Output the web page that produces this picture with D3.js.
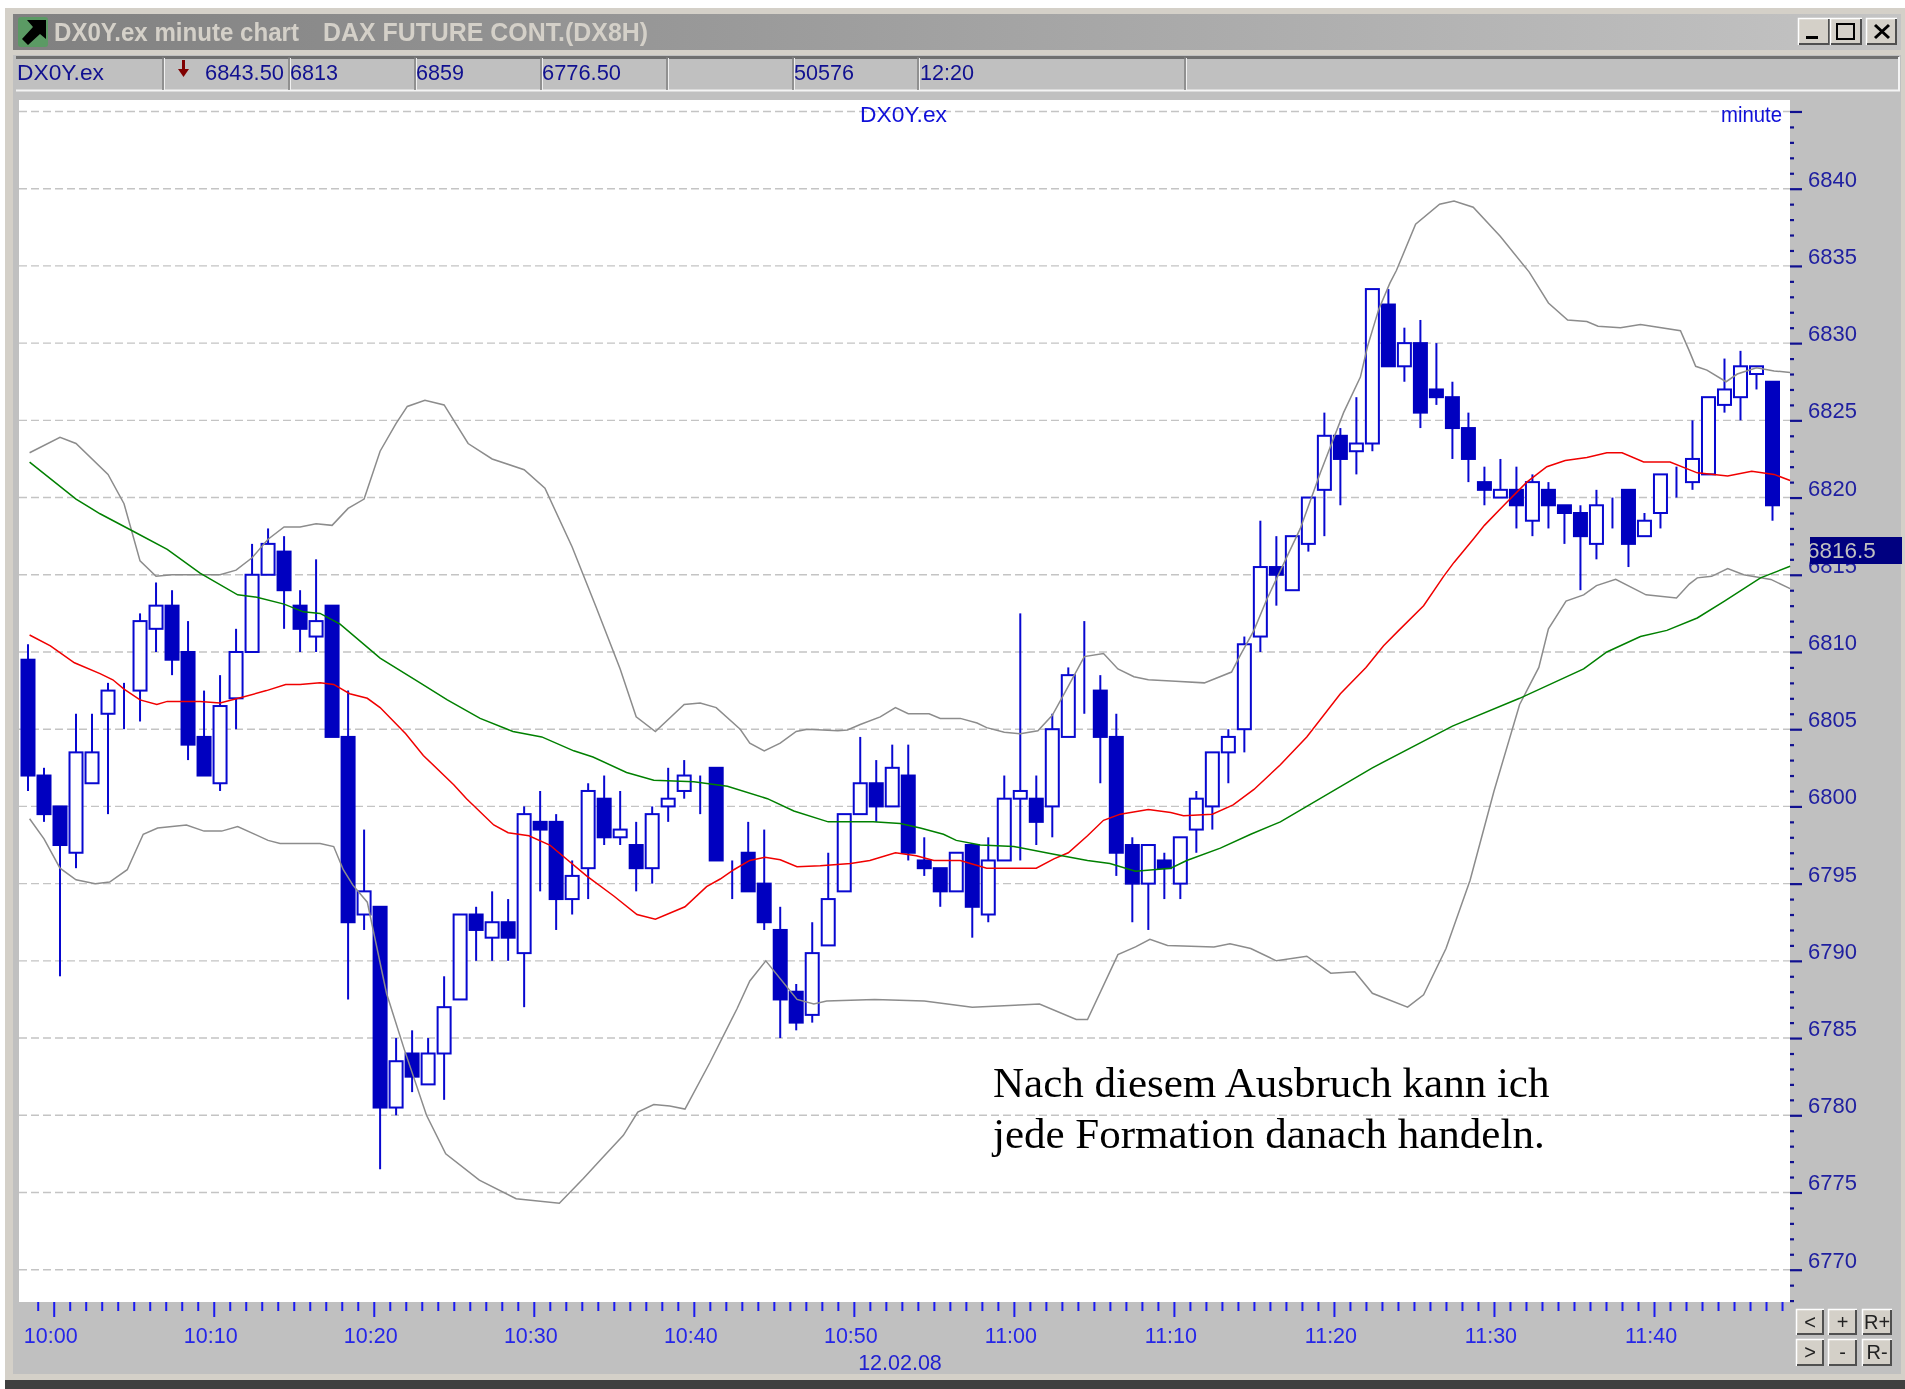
<!DOCTYPE html>
<html><head><meta charset="utf-8">
<script src="https://cdn.jsdelivr.net/npm/d3@7"></script>
<style>
html,body{margin:0;padding:0;background:#fff;overflow:hidden}
svg{display:block;filter:blur(0.6px)}
text{font-family:"Liberation Sans",Arial,sans-serif}
</style></head><body><svg id="c" width="1905" height="1389"></svg>
<script>
const titleLeft="DX0Y.ex minute chart", titleRight="DAX FUTURE CONT.(DX8H)";
const statusCells=[["DX0Y.ex",17,87],["6843.50",205,79],["6813",290,48],["6859",416,48],["6776.50",542,79],["50576",794,60],["12:20",920,54]];
const statusSeparators=[163,289,415,541,667,793,918,1185];
const timeLabels=["10:00","10:10","10:20","10:30","10:40","10:50","11:00","11:10","11:20","11:30","11:40"];
const priceLabels=[6840,6835,6830,6825,6820,6815,6810,6805,6800,6795,6790,6785,6780,6775,6770];
const opens=[6809.5,6802,6800,6797,6801.5,6806,6807.5,6807.5,6811.5,6813,6810,6804.5,6801.5,6807,6810,6815,6816.5,6813,6811,6813,6804.5,6793,6793.5,6780.5,6784,6782,6784,6787.5,6793,6791.5,6792.5,6790.5,6799,6799,6794,6796,6800.5,6798,6797.5,6796,6800,6801,6802,6802.5,6796.5,6797,6795,6792,6788,6786.5,6791,6794.5,6799.5,6801.5,6800,6802,6796.5,6796,6794.5,6797.5,6793,6796.5,6800.5,6800.5,6800,6804.5,6808.5,6807.5,6804.5,6797.5,6795,6796.5,6795,6798.5,6800,6803.5,6805,6811,6815.5,6814,6817,6820.5,6824,6823,6823.5,6832.5,6828.5,6830,6827,6826.5,6824.5,6821,6820,6820.5,6818.5,6820.5,6819.5,6819,6817,6819.5,6820.5,6817.5,6819,6821,6821,6821.5,6826,6826.5,6828,6827.5];
const closes=[6802,6799.5,6797.5,6803.5,6803.5,6807.5,6807.5,6812,6813,6809.5,6804,6802,6806.5,6810,6815,6817,6814,6811.5,6812,6804.5,6792.5,6794.5,6780.5,6783.5,6782.5,6784,6787,6793,6792,6792.5,6791.5,6799.5,6798.5,6794,6795.5,6801,6798,6798.5,6796,6799.5,6800.5,6802,6802,6796.5,6796.5,6794.5,6792.5,6787.5,6786,6790.5,6794,6799.5,6801.5,6800,6802.5,6797,6796,6794.5,6797,6793.5,6796.5,6800.5,6801,6799,6805,6808.5,6808.5,6804.5,6797,6795,6797.5,6796,6798,6800.5,6803.5,6804.5,6810.5,6815.5,6815,6817.5,6820,6824,6822.5,6823.5,6833.5,6828.5,6830,6825.5,6826.5,6824.5,6822.5,6820.5,6820.5,6819.5,6821,6819.5,6819,6817.5,6819.5,6819.5,6817,6818.5,6821.5,6821,6822.5,6826.5,6827,6828.5,6828.5,6819.5];
const highs=[6810.5,6802.5,6800,6806,6806,6808,6808,6812.5,6814.5,6814,6812,6807.5,6808.5,6811.5,6817,6818,6817.5,6814,6816,6813,6807.5,6798.5,6793.5,6785,6785.5,6785,6789,6793,6793.5,6794.5,6794,6800,6801,6799.5,6796.5,6801.5,6802,6801,6799,6800,6802.5,6803,6802,6802.5,6796.5,6799,6798.5,6793.5,6788.5,6792.5,6797,6799.5,6804.5,6803,6804,6804,6798,6796,6797,6797.5,6798,6802,6812.5,6802,6806,6809,6812,6808.5,6806,6798,6797.5,6797,6798,6801,6803.5,6805,6811,6818.5,6817.5,6817.5,6820,6825.5,6824.5,6826.5,6833.5,6833.5,6831,6831.5,6830,6827.5,6825.5,6822,6822.5,6822,6821.5,6821,6819.5,6819.5,6820.5,6820,6820.5,6819,6821.5,6822,6825,6826.5,6829,6829.5,6828.5,6827.5];
const lows=[6801,6799,6789,6796,6801.5,6799.5,6805,6805.5,6810,6808.5,6803,6802,6801,6805,6810,6815,6811.5,6810,6810,6804.5,6787.5,6792,6776.5,6780,6781.5,6782,6781,6787.5,6790,6790,6790,6787,6794.5,6792,6793,6794,6797.5,6797.5,6794.5,6795,6799,6800.5,6799.5,6796.5,6794,6794.5,6792,6785,6785.5,6786,6791,6794.5,6799.5,6799,6800,6796.5,6795.5,6793.5,6794.5,6791.5,6792.5,6796.5,6796.5,6797.5,6798,6804.5,6806,6801.5,6795.5,6792.5,6792,6794,6794,6797,6798.5,6801.5,6803.5,6810,6813,6814,6816.5,6817.5,6819.5,6821.5,6823,6828.5,6827.5,6824.5,6826,6822.5,6821,6819.5,6820,6818,6817.5,6818,6817,6814,6816,6818,6815.5,6817.5,6818,6820,6820.5,6821.5,6825.5,6825,6827,6818.5];
const bandUpper=[[0.1,6822.9],[2,6823.9],[3,6823.5],[5,6821.5],[6,6819.6],[7,6815.9],[8,6814.9],[9,6815],[12,6815],[13,6815.3],[14,6816.1],[15,6817.3],[16,6818.1],[17,6818.1],[18,6818.3],[19,6818.2],[20,6819.3],[21,6819.9],[22,6823],[23,6824.8],[23.7,6825.9],[24.8,6826.3],[26,6826],[27.5,6823.5],[29,6822.5],[31,6821.8],[32.3,6820.6],[34,6816.8],[35.5,6812.9],[37,6808.9],[38,6805.8],[39.2,6804.85],[41,6806.6],[42,6806.7],[43,6806.4],[44.5,6805],[45.1,6804.1],[46,6803.6],[47,6804.1],[48,6804.85],[48.7,6805],[50.6,6804.9],[51.2,6804.95],[52,6805.3],[53.25,6805.8],[54.2,6806.4],[55,6806],[56.3,6806],[57,6805.7],[58.25,6805.7],[59.3,6805.4],[59.9,6805.1],[61,6804.8],[62,6804.7],[63.1,6804.9],[64,6805.9],[64.8,6807.4],[66,6809.7],[67.2,6809.9],[68.1,6808.9],[69.1,6808.4],[70,6808.2],[71.7,6808.1],[73.5,6808],[75.2,6808.7],[75.75,6809.8],[76.6,6811.4],[77.4,6813.4],[79.5,6818],[80.75,6821.6],[82.2,6825.5],[83.25,6827.8],[83.7,6829.8],[84.4,6832.2],[85.1,6833.9],[85.5,6834.7],[86.7,6837.7],[88.2,6839],[89.1,6839.2],[90.3,6838.8],[92,6836.9],[93.8,6834.6],[95,6832.6],[96.2,6831.5],[97.4,6831.4],[98.1,6831.1],[99.5,6831],[100.75,6831.2],[103.25,6830.8],[103.8,6829.5],[104.2,6828.5],[104.9,6828.25],[106.1,6827.5],[106.8,6828],[108,6828.4],[109.1,6828.2],[110.1,6828.1]];
const bandLower=[[0.1,6799.2],[1,6797.9],[2,6796],[3,6795.25],[4.2,6795],[5.1,6795.1],[6.2,6795.9],[7.2,6798.2],[8.1,6798.6],[9.9,6798.8],[11,6798.4],[12.1,6798.4],[13.1,6798.7],[15,6797.8],[15.75,6797.6],[18.25,6797.6],[19.1,6797.4],[19.7,6795.9],[20.3,6794.9],[21.2,6793.8],[22.4,6787.9],[23.5,6784.3],[24.9,6780],[26.1,6777.5],[28.2,6775.8],[30.5,6774.6],[33.2,6774.3],[34.7,6775.9],[35.85,6777.2],[37.2,6778.7],[38.1,6780.2],[39.1,6780.7],[40.1,6780.6],[41.05,6780.4],[42.6,6783.4],[44.3,6786.9],[45.1,6788.7],[46.1,6790],[48.05,6787.5],[49.1,6787.2],[49.9,6787.4],[52.9,6787.5],[56,6787.4],[59,6787],[63.2,6787.2],[65.5,6786.2],[66.2,6786.2],[68.1,6790.4],[69.2,6790.9],[70.1,6791.4],[71.2,6791],[74.1,6790.9],[75.1,6791.1],[76.4,6790.8],[78,6790],[79.9,6790.3],[81.4,6789.2],[82.9,6789.3],[84,6787.9],[86.2,6787],[87.2,6787.8],[88.6,6790.8],[90.1,6795.2],[91.6,6801],[93.2,6806.6],[94.4,6809],[95,6811.5],[96.1,6813.3],[97.2,6813.7],[98,6814.3],[99.2,6814.7],[101.1,6813.7],[103,6813.5],[103.8,6814.4],[104.3,6814.8],[105.2,6814.9],[106.2,6815.4],[107.2,6815],[108.9,6814.7],[110.1,6814.1]];
const maRed=[[0.1,6811.1],[1.4,6810.4],[2.9,6809.3],[4.5,6808.6],[5.3,6808.2],[6,6807.6],[7,6806.9],[8.05,6806.6],[8.7,6806.8],[10.75,6806.8],[12,6806.7],[13.5,6807.1],[14.9,6807.5],[16.1,6807.9],[17,6807.9],[18.25,6808],[19.1,6807.9],[20.1,6807.3],[21.2,6807],[22,6806.4],[23.6,6804.7],[24.7,6803.3],[26.6,6801.4],[27.4,6800.5],[29.1,6798.8],[30,6798.3],[31.3,6798.1],[32.6,6797.5],[34.9,6795.5],[36.6,6794.2],[38.05,6793],[39.2,6792.7],[41.05,6793.5],[42.4,6794.8],[43.25,6795.3],[44.1,6795.9],[45.1,6796.5],[46.05,6796.7],[47,6796.55],[48.05,6796.1],[49.5,6796.15],[51.4,6796.3],[52.6,6796.5],[54.2,6797],[55.5,6796.8],[56.6,6796.5],[58.25,6796.5],[59.9,6796],[63,6796],[64.1,6796.6],[65,6797],[66.2,6798.1],[67.2,6799.1],[68.25,6799.5],[70,6799.8],[71.4,6799.6],[72.2,6799.4],[74,6799.5],[75.3,6800.1],[76.6,6801.1],[78.25,6802.7],[79.9,6804.5],[82,6807.3],[83.6,6809],[84.7,6810.4],[85.65,6811.4],[87.2,6813],[88.45,6814.9],[89.1,6815.8],[90.3,6817.3],[91,6818.2],[92.4,6819.7],[93.65,6821],[94.9,6822],[96.05,6822.4],[97.4,6822.6],[98.65,6822.9],[99.6,6822.9],[100.95,6822.3],[102.6,6822.3],[104.3,6821.6],[106.2,6821.4],[107.7,6821.7],[109.1,6821.5],[110.1,6821.1]];
const maGreen=[[0.1,6822.3],[3,6819.9],[4.5,6818.95],[6.6,6817.8],[8.7,6816.65],[10.75,6815.1],[13.1,6813.7],[14.3,6813.55],[16,6813.1],[17.2,6812.6],[18.25,6812.5],[19.5,6811.8],[22,6809.6],[24.5,6808],[26.2,6806.9],[28.25,6805.7],[30.3,6804.85],[32.1,6804.5],[34.1,6803.6],[35.3,6803.2],[37.4,6802.2],[39.1,6801.7],[41.6,6801.6],[43.7,6801.3],[46.2,6800.5],[47.85,6799.7],[50,6799],[52.8,6799],[54.5,6798.9],[55.75,6798.6],[57.2,6798.2],[58,6797.8],[59.5,6797.5],[61.6,6797.4],[64.1,6796.9],[66.2,6796.5],[67.6,6796.3],[69.2,6795.8],[71.4,6796],[72.4,6796.5],[74.5,6797.3],[76.4,6798.2],[78.25,6799],[84,6802.5],[89,6805.2],[93.2,6807],[97.2,6808.9],[98.65,6810],[100.75,6811],[102.4,6811.4],[104.3,6812.2],[106,6813.3],[108.25,6814.8],[110.1,6815.55]];
const lastPrice="6816.5";
const noteLines=["Nach diesem Ausbruch kann ich","jede Formation danach handeln."];

const svg=d3.select("#c");
const W=1905,H=1389,plot={l:19,r:1790,t:100,b:1302};
const x=d3.scaleLinear().domain([0,109]).range([28,1772.5]);
const y=d3.scaleLinear().domain([6770,6840]).range([1269.7,188.7]);
const xt=d3.scaleLinear().domain([0,100]).range([53.7,1654]);

// window
const defs=svg.append("defs");
const g=defs.append("linearGradient").attr("id","tb");
g.append("stop").attr("offset","0").attr("stop-color","#808080");
g.append("stop").attr("offset","1").attr("stop-color","#c4c4c4");
svg.append("rect").attr("width",W).attr("height",H).attr("fill","#fff");
svg.append("rect").attr("x",5).attr("y",8).attr("width",W-5).attr("height",1372).attr("fill","#d4d0c8");
svg.append("rect").attr("x",13).attr("y",14).attr("width",W-17).attr("height",1361).attr("fill","#c0c0c0");
svg.append("rect").attr("x",13).attr("y",1374).attr("width",W-13).attr("height",6).attr("fill","#d4d0c8");
svg.append("rect").attr("x",5).attr("y",1380).attr("width",W-5).attr("height",9).attr("fill","#404040");
svg.append("rect").attr("x",13).attr("y",14).attr("width",W-17).attr("height",36).attr("fill","url(#tb)");
svg.append("rect").attr("x",13).attr("y",50).attr("width",W-17).attr("height",5).attr("fill","#d4d0c8");
// icon
svg.append("rect").attr("x",18).attr("y",17).attr("width",30).attr("height",30).attr("rx",3).attr("fill","#5b9a64");
svg.append("path").attr("d","M27 20 H46 V39 L40 34 L28 45 L22 39 L33 27 Z").attr("fill","#000");
svg.append("text").attr("x",54).attr("y",41).attr("font-size",26).attr("font-weight","bold").attr("fill","#d4d0c8").attr("textLength",245).attr("lengthAdjust","spacingAndGlyphs").text(titleLeft);
svg.append("text").attr("x",323).attr("y",41).attr("font-size",26).attr("font-weight","bold").attr("fill","#d4d0c8").attr("textLength",325).attr("lengthAdjust","spacingAndGlyphs").text(titleRight);

function button(x0,y0,w,h){
  svg.append("rect").attr("x",x0).attr("y",y0).attr("width",w).attr("height",h).attr("fill","#d4d0c8");
  svg.append("path").attr("d",`M${x0+.5} ${y0+h}V${y0+.5}H${x0+w}`).attr("fill","none").attr("stroke","#fff").attr("stroke-width",1.5);
  svg.append("path").attr("d",`M${x0+w-1} ${y0+1}V${y0+h-1}H${x0+1}`).attr("fill","none").attr("stroke","#505050").attr("stroke-width",2);
}
button(1798,18,32,27);button(1830,18,32,27);button(1866,18,31,27);
svg.append("rect").attr("x",1806).attr("y",36).attr("width",12).attr("height",3).attr("fill","#000");
svg.append("rect").attr("x",1837).attr("y",24).attr("width",17).attr("height",15).attr("fill","none").attr("stroke","#000").attr("stroke-width",2);
svg.append("path").attr("d","M1875 25L1889 38M1889 25L1875 38").attr("stroke","#000").attr("stroke-width",3);

// status row
svg.append("path").attr("d","M16 57.5H1899").attr("stroke","#707070").attr("stroke-width",3);
svg.append("path").attr("d","M16 90.5H1899V57").attr("stroke","#f4f4f4").attr("stroke-width",2).attr("fill","none");
statusSeparators.forEach(s=>{
  svg.append("path").attr("d",`M${s} 57V90`).attr("stroke","#808080").attr("stroke-width",1.5);
  svg.append("path").attr("d",`M${s+1.5} 58V90`).attr("stroke","#f0f0f0").attr("stroke-width",1);
});
statusCells.forEach(c=>svg.append("text").attr("x",c[1]).attr("y",80).attr("font-size",21.5).attr("fill","#101090").attr("textLength",c[2]).attr("lengthAdjust","spacingAndGlyphs").text(c[0]));
svg.append("path").attr("d","M180 70H184V61H187V70H191L185.5 78Z").attr("transform","translate(-2,-1)").attr("fill","#800000");

// plot
svg.append("rect").attr("x",plot.l).attr("y",plot.t).attr("width",plot.r-plot.l).attr("height",plot.b-plot.t).attr("fill","#fff");
const gridVals=d3.range(6770,6846,5);
svg.append("g").selectAll("line").data(gridVals).join("line")
  .attr("x1",plot.l).attr("x2",plot.r).attr("y1",d=>y(d)).attr("y2",d=>y(d))
  .attr("stroke","#c4c4c4").attr("stroke-width",1.4).attr("stroke-dasharray","8 4");

// y axis
const axMinor=svg.append("g").attr("transform",`translate(${plot.r},0)`)
  .call(d3.axisRight(y).tickValues(d3.range(6768,6845).filter(d=>d%5)).tickSize(4).tickFormat(""));
const axMajor=svg.append("g").attr("transform",`translate(${plot.r},0)`)
  .call(d3.axisRight(y).tickValues(gridVals).tickSize(12).tickFormat(""));
[axMinor,axMajor].forEach(a=>{a.select(".domain").remove();a.selectAll("line").attr("stroke","#101090").attr("stroke-width",2.2);});
svg.append("g").selectAll("text").data(priceLabels).join("text")
  .attr("x",1808).attr("y",d=>y(d)-2).attr("font-size",22).attr("fill","#2020a0").text(d=>d);

// x axis
const axX=svg.append("g").attr("transform",`translate(0,${plot.b})`)
  .call(d3.axisBottom(xt).tickValues(d3.range(-1,109).filter(d=>d%10)).tickSize(9).tickFormat(""));
const axX2=svg.append("g").attr("transform",`translate(0,${plot.b})`)
  .call(d3.axisBottom(xt).tickValues(d3.range(0,101,10)).tickSize(15).tickFormat(""));
[axX,axX2].forEach(a=>{a.select(".domain").remove();a.selectAll("line").attr("stroke","#1a1af0").attr("stroke-width",2);});
svg.append("g").selectAll("text").data(timeLabels).join("text")
  .attr("x",(d,i)=>xt(i*10)-3).attr("y",1342.5).attr("text-anchor","middle").attr("font-size",21.5).attr("fill","#2525e8").text(d=>d);
svg.append("text").attr("x",900).attr("y",1370).attr("text-anchor","middle").attr("font-size",21.5).attr("fill","#2020d0").text("12.02.08");

// candles
const BW=13,blue="#0000c0";
const idx=d3.range(opens.length);
svg.append("g").selectAll("line").data(idx).join("line")
  .attr("x1",i=>x(i)).attr("x2",i=>x(i)).attr("y1",i=>y(highs[i])).attr("y2",i=>y(lows[i]))
  .attr("stroke","#0808d0").attr("stroke-width",2);
svg.append("g").selectAll("rect").data(idx).join("rect")
  .attr("x",i=>x(i)-BW/2).attr("width",BW)
  .attr("y",i=>y(Math.max(opens[i],closes[i])))
  .attr("height",i=>Math.abs(y(opens[i])-y(closes[i])))
  .attr("fill",i=>closes[i]<opens[i]?blue:"#fff")
  .attr("stroke",i=>closes[i]<opens[i]?blue:"#0808d0").attr("stroke-width",2);

// lines
const ln=d3.line().x(d=>x(d[0])).y(d=>y(d[1]));
[[bandUpper,"#8c8c8c"],[bandLower,"#8c8c8c"],[maRed,"#f00000"],[maGreen,"#008000"]].forEach(s=>
  svg.append("path").attr("d",ln(s[0])).attr("fill","none").attr("stroke",s[1]).attr("stroke-width",1.5));

// labels inside the plot
svg.append("text").attr("x",860).attr("y",122).attr("font-size",21.5).attr("fill","#1010d8").attr("textLength",87).attr("lengthAdjust","spacingAndGlyphs").text("DX0Y.ex");
svg.append("text").attr("x",1721).attr("y",122).attr("font-size",21.5).attr("fill","#1010d8").attr("textLength",61).attr("lengthAdjust","spacingAndGlyphs").text("minute");

// last price tag
svg.append("rect").attr("x",1810).attr("y",537).attr("width",92).attr("height",27).attr("fill","#000080");
defs.append("clipPath").attr("id","tagclip").append("rect").attr("x",1810).attr("y",530).attr("width",95).attr("height",40);
svg.append("text").attr("x",1807).attr("y",558).attr("font-size",22.5).attr("fill","#c0c0c0").attr("clip-path","url(#tagclip)").text(lastPrice);

// zoom buttons
const zoomBtns=[["<",1796,1309,28,26],["+",1828,1309,29,26],["R+",1862,1309,30,26],[">",1796,1339,28,27],["-",1828,1339,29,27],["R-",1862,1339,30,27]];
zoomBtns.forEach(b=>{button(b[1],b[2],b[3],b[4]);
  svg.append("text").attr("x",b[1]+b[3]/2).attr("y",b[2]+20).attr("text-anchor","middle").attr("font-size",20).attr("fill","#222").text(b[0]);});

// annotation
noteLines.forEach((t,i)=>svg.append("text").attr("x",993).attr("y",1097+i*51).attr("font-size",43)
  .style("font-family",'"Liberation Serif","Times New Roman",serif').attr("fill","#000").text(t));
</script></body></html>
